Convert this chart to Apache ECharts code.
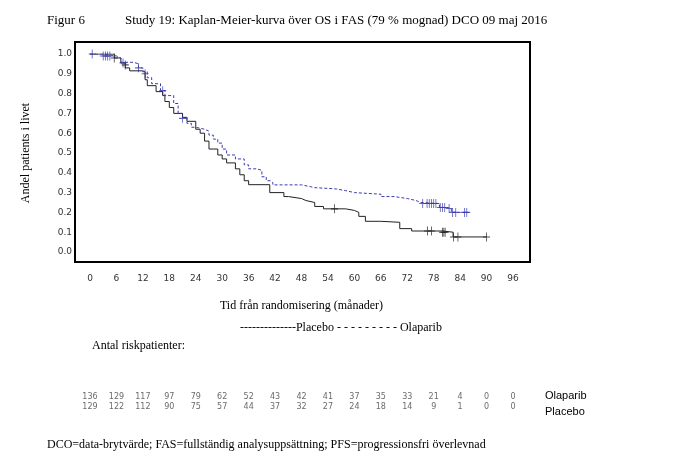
<!DOCTYPE html>
<html>
<head>
<meta charset="utf-8">
<script src="https://cdn.jsdelivr.net/npm/echarts@6/dist/echarts.min.js"></script>
</head>
<body style="margin:0;background:#fff">
<div id="main" style="width:694px;height:463px"></div>
<script type="text/javascript">
// KM-kurvor: [månad, andel från och med månaden]
var placebo = [[0,1.0],[5.5,0.98],[7,0.955],[8,0.93],[9,0.915],[12,0.91],[12.5,0.87],[13,0.84],[15,0.81],[16.5,0.79],[17,0.76],[18,0.73],[19,0.70],[21,0.68],[22,0.66],[24,0.62],[25,0.60],[26,0.56],[27,0.52],[29,0.49],[30,0.47],[31,0.45],[33,0.42],[34,0.39],[35,0.36],[36,0.34],[40.8,0.30],[44,0.28],[45,0.27],[48,0.26],[49,0.25],[51,0.23],[53,0.218],[58,0.21],[60,0.20],[61,0.18],[62.5,0.155],[66,0.15],[70.3,0.118],[73,0.106],[80,0.10],[82.4,0.076],[90,0.076]];
var olaparib = [[0,1.0],[3,0.99],[6,0.98],[7,0.958],[10,0.95],[11,0.93],[12,0.91],[13,0.88],[14,0.85],[16,0.816],[17,0.79],[19,0.75],[20,0.70],[21,0.68],[22,0.65],[23,0.63],[24,0.62],[26,0.61],[27,0.59],[28,0.57],[29,0.55],[30,0.52],[31,0.49],[33,0.47],[35,0.44],[36,0.42],[37.7,0.413],[39,0.38],[40,0.36],[41,0.35],[41.5,0.339],[48,0.33],[50,0.325],[51,0.32],[55,0.318],[56,0.31],[58,0.30],[60,0.292],[66,0.28],[69,0.27],[72,0.26],[74,0.25],[75,0.245],[79.3,0.225],[81,0.22],[82,0.20],[86,0.20]];
var placeboCens = [[5.5,0.98],[8,0.945],[55.5,0.218],[76.6,0.106],[77.5,0.106],[80,0.10],[80.3,0.10],[80.6,0.10],[82.5,0.076],[83.5,0.076],[90,0.076]];
var olaparibCens = [[0.5,1.0],[3,0.99],[3.5,0.99],[4,0.99],[4.5,0.99],[7.5,0.955],[11,0.93],[12.5,0.90],[16.5,0.815],[21,0.675],[75.5,0.245],[76.5,0.245],[77,0.245],[77.5,0.245],[78,0.245],[78.5,0.245],[79.5,0.225],[80,0.225],[80.5,0.225],[81.5,0.22],[82.3,0.2],[83,0.2],[85,0.2],[85.5,0.2]];
var riskMonths = [0,6,12,18,24,30,36,42,48,54,60,66,72,78,84,90,96];
var riskOlaparib = [136,129,117,97,79,62,52,43,42,41,37,35,33,21,4,0,0];
var riskPlacebo = [129,122,112,90,75,57,44,37,32,27,24,18,14,9,1,0,0];

var blue = '#3b3bb0', black = '#222';
var plus = 'path://M-0.12,-1H0.12V1H-0.12Z M-1,-0.12H1V0.12H-1Z';
var tickFont = {fontFamily:'DejaVu Sans', fontSize:9, color:'#333'};

var riskData = [];
riskMonths.forEach(function (m, i) {
    riskData.push({value:[m,'O'], label:{formatter: String(riskOlaparib[i])}});
    riskData.push({value:[m,'P'], label:{formatter: String(riskPlacebo[i])}});
});

var myChart = echarts.init(document.getElementById('main'));
var option = {
    animation: false,
    grid: [
        {left:90, right:181, top:54, bottom:211},
        {left:90, right:181, top:392, height:20}
    ],
    xAxis: [
        {gridIndex:0, type:'value', min:0, max:96, interval:6,
         axisLine:{show:false}, axisTick:{show:false}, splitLine:{show:false},
         axisLabel:Object.assign({margin:22}, tickFont),
         name:'Tid från randomisering (månader)', nameLocation:'middle', nameGap:48,
         nameTextStyle:{fontFamily:'Liberation Serif', fontSize:12, color:'#000'}},
        {gridIndex:1, type:'value', min:0, max:96, show:false}
    ],
    yAxis: [
        {gridIndex:0, type:'value', min:0, max:1, interval:0.1,
         axisLine:{show:false}, axisTick:{show:false},
         splitLine:{show:false},
         axisLabel:Object.assign({margin:18, formatter:function (v) { return v.toFixed(1); }}, tickFont),
         name:'Andel patients i livet', nameLocation:'middle', nameGap:58,
         nameTextStyle:{fontFamily:'Liberation Serif', fontSize:12, color:'#000'}},
        {gridIndex:1, type:'category', data:['P','O'], show:false}
    ],
    series: [
        {type:'line', step:'end', data:placebo, symbol:'none',
         lineStyle:{color:black, width:1}},
        {type:'line', step:'end', data:olaparib, symbol:'none',
         lineStyle:{color:blue, width:1, type:[3,2]}},
        {type:'scatter', data:placeboCens, symbol:plus, symbolSize:[7,9],
         itemStyle:{color:black}},
        {type:'scatter', data:olaparibCens, symbol:plus, symbolSize:[7,9],
         itemStyle:{color:blue}},
        {type:'scatter', xAxisIndex:1, yAxisIndex:1, data:riskData, symbolSize:0,
         label:{show:true, position:'inside', fontFamily:'DejaVu Sans', fontSize:8, color:'#444'}}
    ],
    graphic: [
        {type:'rect', shape:{x:75, y:42, width:455, height:220},
         style:{fill:'none', stroke:'#000', lineWidth:2}},
        {type:'text', left:47, top:14, style:{text:'Figur 6', font:'13px Liberation Serif', fill:'#000'}},
        {type:'text', left:125, top:14, style:{text:'Study 19: Kaplan-Meier-kurva över OS i FAS (79 % mognad) DCO 09 maj 2016', font:'13px Liberation Serif', fill:'#000'}},
        {type:'text', left:240, top:322, style:{text:'--------------Placebo - - - - - - - - - Olaparib', font:'12px Liberation Serif', fill:'#000'}},
        {type:'text', left:92, top:340, style:{text:'Antal riskpatienter:', font:'12px Liberation Serif', fill:'#000'}},
        {type:'text', left:545, top:390, style:{text:'Olaparib', font:'11px Liberation Sans', fill:'#000'}},
        {type:'text', left:545, top:406, style:{text:'Placebo', font:'11px Liberation Sans', fill:'#000'}},
        {type:'text', left:47, top:439, style:{text:'DCO=data-brytvärde; FAS=fullständig analysuppsättning; PFS=progressionsfri överlevnad', font:'12px Liberation Serif', fill:'#000'}}
    ]
};
myChart.setOption(option);
</script>
</body>
</html>
